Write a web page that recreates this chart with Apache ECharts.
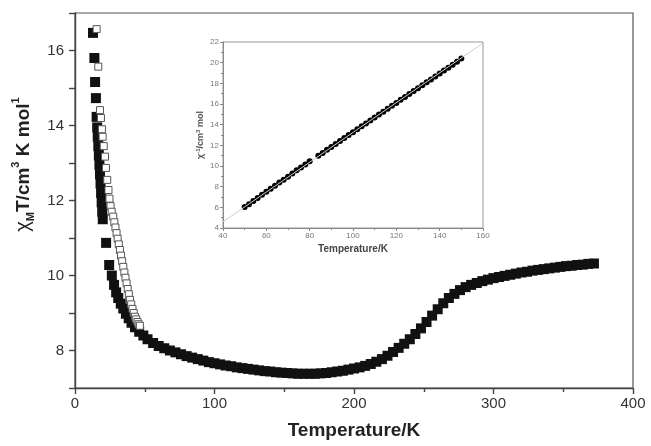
<!DOCTYPE html>
<html>
<head lang="en">
<meta charset="UTF-8">
<title></title>
<script type="text/javascript" src="https://cdn.jsdelivr.net/npm/echarts@6/dist/echarts.min.js"></script>
<style>
body { margin: 0; background: #fff; }
#chart { width: 651px; height: 446px; }
</style>
</head>
<body>
<div id="chart"></div>
<script type="text/javascript">
// main plot, filled squares (chi_M T vs T)
var tempFilled = [12.9, 13.9, 14.4, 15.0, 15.5, 15.9, 16.3, 16.7, 17.1, 17.5, 17.9, 18.3, 18.7, 19.1, 19.5, 19.9,
	22.3, 24.5, 26.4, 28.0, 29.5, 31.0, 32.8, 34.6, 36.5, 38.5, 40.5, 43, 46, 49, 52, 56, 60, 64, 68, 72, 76, 80,
	84, 88, 92, 96, 100, 104, 108, 112, 116, 120, 124, 128, 132, 136, 140, 144, 148, 152, 156, 160, 164, 168,
	172, 176, 180, 184, 188, 192, 196, 200, 204, 208, 212, 216, 220, 224, 228, 232, 236, 240, 244, 248, 252,
	256, 260, 264, 268, 272, 276, 280, 284, 288, 292, 296, 300, 304, 308, 312, 316, 320, 324, 328, 332, 336,
	340, 344, 348, 352, 356, 360, 364, 368, 372];
var chiTFilled = [16.47, 15.8, 15.16, 14.73, 14.23, 13.95, 13.7, 13.45, 13.2, 12.95, 12.7, 12.45, 12.2, 11.95, 11.7, 11.5,
	10.87, 10.28, 10.0, 9.75, 9.55, 9.4, 9.25, 9.12, 8.98, 8.86, 8.74, 8.62, 8.5, 8.4, 8.3, 8.2, 8.12, 8.06, 8.0, 7.95, 7.9, 7.85,
	7.81, 7.77, 7.73, 7.69, 7.66, 7.63, 7.6, 7.58, 7.55, 7.53, 7.51, 7.49, 7.47, 7.45, 7.44, 7.42, 7.41, 7.40, 7.39, 7.38, 7.38, 7.38,
	7.38, 7.39, 7.40, 7.42, 7.44, 7.46, 7.49, 7.52, 7.55, 7.59, 7.64, 7.70, 7.77, 7.86, 7.96, 8.07, 8.18, 8.30, 8.44, 8.59, 8.76,
	8.93, 9.10, 9.26, 9.40, 9.51, 9.61, 9.69, 9.75, 9.80, 9.85, 9.89, 9.93, 9.96, 9.99, 10.02, 10.05, 10.08, 10.10, 10.13, 10.15, 10.17,
	10.19, 10.21, 10.23, 10.25, 10.26, 10.28, 10.29, 10.31, 10.32];

// main plot, open squares
var tempOpen = [15.5, 16.7, 17.9, 18.6, 19.3, 19.8, 20.6, 21.5, 22.2, 23.1, 24.0, 24.7, 25.5, 26.3, 27.4, 28.2, 29.0,
	29.8, 30.6, 31.4, 32.2, 33.0, 33.8, 34.6, 35.4, 36.2, 37.0, 37.8, 38.6, 39.4, 40.3, 41.2, 42.1, 43.0, 43.9, 44.8, 45.6, 46.5];
var chiTOpen = [16.57, 15.57, 14.41, 14.2, 13.9, 13.7, 13.45, 13.17, 12.87, 12.55, 12.28, 12.05, 11.85, 11.7, 11.57, 11.42, 11.28,
	11.13, 10.98, 10.83, 10.68, 10.53, 10.38, 10.23, 10.08, 9.94, 9.79, 9.64, 9.5, 9.35, 9.23, 9.11, 9.0, 8.9, 8.83, 8.76, 8.7, 8.66];

// inset, chi^-1 vs T
var tempInv = [50, 52, 54, 56, 58, 60, 62, 64, 66, 68, 70, 72, 74, 76, 78, 80,
	84, 86, 88, 90, 92, 94, 96, 98, 100, 102, 104, 106, 108, 110, 112, 114, 116, 118, 120, 122, 124, 126,
	128, 130, 132, 134, 136, 138, 140, 142, 144, 146, 148, 150];
var chiInv = [6.03, 6.31, 6.62, 6.9, 7.21, 7.5, 7.79, 8.09, 8.4, 8.68, 8.97, 9.27, 9.58, 9.86, 10.15, 10.45,
	11.0, 11.27, 11.57, 11.85, 12.13, 12.43, 12.7, 12.99, 13.27, 13.56, 13.84, 14.12, 14.4, 14.69, 14.98, 15.26, 15.54, 15.83, 16.1, 16.4, 16.68, 16.96,
	17.25, 17.53, 17.81, 18.1, 18.38, 18.66, 18.95, 19.24, 19.52, 19.8, 20.09, 20.4];
var fitT = [40, 160];
var fitV = [4.6, 21.9];

var mainTicksX = [0, 100, 200, 300, 400];
var mainTicksY = [8, 10, 12, 14, 16];

function pairs(xs, ys) {
	var out = [];
	for (var i = 0; i < xs.length; i++) {
		out.push([xs[i], ys[i]]);
	}
	return out;
}

var font = 'Liberation Sans, Arial, sans-serif';
var axisDark = { color: '#444', width: 1.4 };
var axisGray = { color: '#888', width: 1 };

var chart = echarts.init(document.getElementById('chart'));

var option = {
	animation: false,
	backgroundColor: '#fff',
	textStyle: { fontFamily: font },
	grid: [
		{ left: 75, right: 18, top: 13, bottom: 58, show: true, borderColor: '#555', borderWidth: 1.2 },
		{ left: 223, top: 42, width: 260, height: 186, show: true, borderColor: '#999', borderWidth: 1 }
	],
	xAxis: [{
		gridIndex: 0,
		type: 'value',
		min: 0,
		max: 400,
		interval: 100,
		axisLine: { lineStyle: axisDark },
		axisTick: { length: 6, lineStyle: axisDark },
		minorTick: { show: true, splitNumber: 2, length: 4, lineStyle: axisDark },
		splitLine: { show: false },
		axisLabel: {
			fontSize: 15, color: '#333', margin: 8, fontFamily: font,
			formatter: function(v) { return mainTicksX.indexOf(v) >= 0 ? String(v) : ''; }
		},
		name: 'Temperature/K',
		nameLocation: 'middle',
		nameGap: 33,
		nameTextStyle: { fontSize: 19, fontWeight: 'bold', color: '#222', fontFamily: font }
	}, {
		gridIndex: 1,
		type: 'value',
		min: 40,
		max: 160,
		interval: 20,
		axisLine: { lineStyle: axisGray },
		axisTick: { length: 3, lineStyle: axisGray },
		minorTick: { show: true, splitNumber: 2, length: 2, lineStyle: axisGray },
		splitLine: { show: false },
		axisLabel: { fontSize: 8, color: '#777', margin: 4, fontFamily: font },
		name: 'Temperature/K',
		nameLocation: 'middle',
		nameGap: 16,
		nameTextStyle: { fontSize: 10, fontWeight: 'bold', color: '#444', fontFamily: font }
	}],
	yAxis: [{
		gridIndex: 0,
		type: 'value',
		min: 7,
		max: 17,
		interval: 1,
		axisLine: { lineStyle: axisDark },
		axisTick: { length: 6, lineStyle: axisDark },
		splitLine: { show: false },
		axisLabel: {
			fontSize: 15, color: '#333', margin: 11, fontFamily: font,
			formatter: function(v) { return mainTicksY.indexOf(v) >= 0 ? String(v) : ''; }
		},
		name: '{g|χ}{sub|M}{t|T/cm}{sup|3}{t| K mol}{sup|1}',
		nameLocation: 'middle',
		nameRotate: 90,
		nameGap: 30,
		nameTextStyle: {
			fontSize: 19, fontWeight: 'bold', color: '#222', fontFamily: font,
			padding: [0, 0, 0, 72],
			rich: {
				g: { fontSize: 20, fontWeight: 'normal', color: '#222', lineHeight: 26, verticalAlign: 'middle', fontFamily: font },
				t: { fontSize: 19, fontWeight: 'bold', color: '#222', lineHeight: 26, verticalAlign: 'middle', fontFamily: font },
				sub: { fontSize: 11, fontWeight: 'bold', color: '#222', lineHeight: 26, verticalAlign: 'bottom', fontFamily: font },
				sup: { fontSize: 11, fontWeight: 'bold', color: '#222', lineHeight: 26, verticalAlign: 'top', fontFamily: font }
			}
		}
	}, {
		gridIndex: 1,
		type: 'value',
		min: 4,
		max: 22,
		interval: 2,
		axisLine: { lineStyle: axisGray },
		axisTick: { length: 3, lineStyle: axisGray },
		minorTick: { show: true, splitNumber: 2, length: 2, lineStyle: axisGray },
		splitLine: { show: false },
		axisLabel: { fontSize: 8, color: '#777', margin: 4, fontFamily: font },
		name: '{g|χ}{sup|-1}{t|/cm}{sup|3}{t| mol}',
		nameLocation: 'middle',
		nameRotate: 90,
		nameGap: 16,
		nameTextStyle: {
			fontSize: 9, fontWeight: 'bold', color: '#555', fontFamily: font,
			rich: {
				g: { fontSize: 9, color: '#555', lineHeight: 12, verticalAlign: 'middle', fontFamily: font },
				t: { fontSize: 9, fontWeight: 'bold', color: '#555', lineHeight: 12, verticalAlign: 'middle', fontFamily: font },
				sup: { fontSize: 6, color: '#555', lineHeight: 12, verticalAlign: 'top', fontFamily: font }
			}
		}
	}],
	series: [{
		name: 'fit',
		type: 'line',
		xAxisIndex: 1,
		yAxisIndex: 1,
		data: pairs(fitT, fitV),
		showSymbol: false,
		silent: true,
		lineStyle: { color: '#cfcfcf', width: 1 }
	}, {
		name: 'inverse',
		type: 'scatter',
		xAxisIndex: 1,
		yAxisIndex: 1,
		data: pairs(tempInv, chiInv),
		symbol: 'circle',
		symbolSize: 6,
		itemStyle: { color: '#000', opacity: 1 }
	}, {
		name: 'filled',
		type: 'scatter',
		xAxisIndex: 0,
		yAxisIndex: 0,
		data: pairs(tempFilled, chiTFilled),
		symbol: 'rect',
		symbolSize: 10,
		itemStyle: { color: '#111', opacity: 1 }
	}, {
		name: 'open',
		type: 'scatter',
		xAxisIndex: 0,
		yAxisIndex: 0,
		data: pairs(tempOpen, chiTOpen),
		symbol: 'rect',
		symbolSize: 7,
		itemStyle: { color: '#fff', borderColor: '#555', borderWidth: 1, opacity: 1 }
	}]
};

chart.setOption(option);
</script>
</body>
</html>
